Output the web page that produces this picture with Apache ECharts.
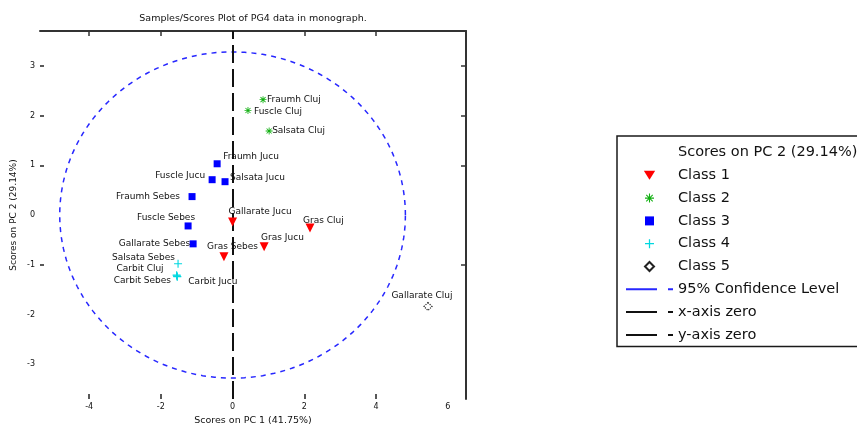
<!DOCTYPE html>
<html>
<head>
<meta charset="utf-8">
<title>Samples/Scores Plot</title>
<script src="https://cdn.jsdelivr.net/npm/echarts@6.0.0/dist/echarts.min.js"></script>
<style>
  html, body { margin: 0; padding: 0; background: #ffffff; }
  #chart { width: 857px; height: 425px; }
</style>
</head>
<body>
<div id="chart"></div>
<script>
// ---- Scores on PC 1 / PC 2, one set of arrays per class ----
const class1Names = ['Gallarate Jucu', 'Gras Cluj', 'Gras Jucu', 'Gras Sebes'];
const class1PC1 = [0.00, 2.16, 0.88, -0.24];
const class1PC2 = [-0.14, -0.26, -0.64, -0.84];

const class2Names = ['Fraumh Cluj', 'Fuscle Cluj', 'Salsata Cluj'];
const class2PC1 = [0.85, 0.43, 1.02];
const class2PC2 = [2.32, 2.10, 1.69];

const class3Names = ['Fraumh Jucu', 'Fuscle Jucu', 'Salsata Jucu', 'Fraumh Sebes', 'Fuscle Sebes', 'Gallarate Sebes'];
const class3PC1 = [-0.43, -0.57, -0.21, -1.13, -1.24, -1.10];
const class3PC2 = [1.03, 0.71, 0.67, 0.37, -0.22, -0.58];

const class4Names = ['Salsata Sebes', 'Carbit Cluj', 'Carbit Sebes', 'Carbit Jucu'];
const class4PC1 = [-1.52, -1.56, -1.55, -1.54];
const class4PC2 = [-0.98, -1.21, -1.23, -1.24];

const class5Names = ['Gallarate Cluj'];
const class5PC1 = [5.45];
const class5PC2 = [-1.84];

// 95% confidence ellipse: semi-axes along PC 1 and PC 2
const confidenceSemiAxes = [4.82, 3.28];

// axis ranges and tick labels
const pc1Range = [-5.37, 6.51];
const pc2Range = [-3.70, 3.70];
const pc1TickLabels = [-4, -2, 0, 2, 4, 6];
const pc1TickMarks = [-4, -2, 0, 2, 4];
const pc2TickLabels = [-3, -2, -1, 0, 1, 2, 3];
const pc2TickMarks = [-1, 1, 2, 3];

// ---- label placement around each marker: [dx, dy, align] ----
const labelPlacement = {
  'Gallarate Jucu': [-4, -10, 'left'],
  'Gras Cluj': [-7, -7, 'left'],
  'Gras Jucu': [-3, -9, 'left'],
  'Gras Sebes': [-17, -10, 'left'],
  'Fraumh Cluj': [4, 0, 'left'],
  'Fuscle Cluj': [6, 1, 'left'],
  'Salsata Cluj': [3, 0, 'left'],
  'Fraumh Jucu': [6, -7, 'left'],
  'Fuscle Jucu': [-7, -4, 'right'],
  'Salsata Jucu': [5, -4, 'left'],
  'Fraumh Sebes': [-12, 0, 'right'],
  'Fuscle Sebes': [7, -8, 'right'],
  'Gallarate Sebes': [-3, 0, 'right'],
  'Salsata Sebes': [-3, -6, 'right'],
  'Carbit Cluj': [-13, -7, 'right'],
  'Carbit Sebes': [-6, 4, 'right'],
  'Carbit Jucu': [11, 5, 'left'],
  'Gallarate Cluj': [-36, -10, 'left']
};

const FONT = 'DejaVu Sans';
const TEXT = '#111111';

// marker shapes
const triDown = 'path://M0,0H10L5,8Z';
const asterisk = 'path://M4.4,0H5.6V10H4.4Z M0,4.4H10V5.6H0Z M1,1.8L1.8,1L9,8.2L8.2,9Z M8.2,1L9,1.8L1.8,9L1,8.2Z';
const plus = 'path://M4.3,0H5.7V10H4.3Z M0,4.3H10V5.7H0Z';
const square = 'path://M0,0H10V10H0Z';
const diamond = 'path://M5,0L10,5L5,10L0,5Z';
const lineIcon = 'path://M0,0H31V2H0Z M42,0H47V2H42Z';

function buildPoints(names, xs, ys, size) {
  return names.map(function (n, i) {
    const p = labelPlacement[n] || [5, 0, 'left'];
    return {
      name: n,
      value: [xs[i], ys[i]],
      label: {
        position: [size / 2 + p[0], size / 2 + p[1]],
        align: p[2]
      }
    };
  });
}

const pointLabel = {
  show: true,
  formatter: '{b}',
  fontFamily: FONT,
  fontSize: 9,
  color: TEXT,
  verticalAlign: 'middle'
};

function classSeries(name, names, xs, ys, symbol, size, itemStyle) {
  return {
    name: name,
    type: 'scatter',
    xAxisIndex: 0,
    yAxisIndex: 0,
    symbol: symbol,
    symbolSize: size,
    itemStyle: Object.assign({ opacity: 1 }, itemStyle),
    label: pointLabel,
    emphasis: { disabled: true },
    data: buildPoints(names, xs, ys, size),
    z: 5
  };
}

const headerName = 'Scores on PC 2 (29.14%)';

const chart = echarts.init(document.getElementById('chart'), null, { renderer: 'canvas' });

chart.setOption({
  animation: false,
  backgroundColor: '#ffffff',
  title: {
    text: 'Samples/Scores Plot of PG4 data in monograph.',
    left: 253,
    top: 14,
    textAlign: 'center',
    padding: 0,
    textStyle: { fontFamily: FONT, fontSize: 9.5, fontWeight: 'normal', color: TEXT }
  },
  grid: { left: 40, right: 391, top: 31, bottom: 26, containLabel: false, outerBoundsMode: 'none' },
  xAxis: [
    {
      type: 'value',
      min: pc1Range[0],
      max: pc1Range[1],
      position: 'bottom',
      name: 'Scores on PC 1 (41.75%)',
      nameLocation: 'middle',
      nameGap: 17,
      nameTextStyle: { fontFamily: FONT, fontSize: 9.5, color: TEXT },
      axisLine: { show: false, onZero: false },
      axisTick: { show: true, inside: true, length: 5, customValues: pc1TickMarks, lineStyle: { color: '#222', width: 1.5 } },
      axisLabel: { customValues: pc1TickLabels, fontFamily: FONT, fontSize: 8, color: TEXT, margin: 4 },
      splitLine: { show: false }
    },
    {
      type: 'value',
      min: pc1Range[0],
      max: pc1Range[1],
      position: 'top',
      axisLine: { show: true, onZero: false, lineStyle: { color: '#333', width: 2 } },
      axisTick: { show: true, inside: true, length: 5, customValues: pc1TickMarks, lineStyle: { color: '#333', width: 1.5 } },
      axisLabel: { show: false },
      splitLine: { show: false }
    }
  ],
  yAxis: [
    {
      type: 'value',
      min: pc2Range[0],
      max: pc2Range[1],
      position: 'left',
      name: 'Scores on PC 2 (29.14%)',
      nameLocation: 'middle',
      nameGap: 22,
      nameTextStyle: { fontFamily: FONT, fontSize: 9, color: TEXT },
      axisLine: { show: false, onZero: false },
      axisTick: { show: true, inside: true, length: 4, customValues: pc2TickMarks, lineStyle: { color: '#222', width: 1.5 } },
      axisLabel: { customValues: pc2TickLabels, fontFamily: FONT, fontSize: 8, color: TEXT, margin: 5 },
      splitLine: { show: false }
    },
    {
      type: 'value',
      min: pc2Range[0],
      max: pc2Range[1],
      position: 'right',
      axisLine: { show: true, onZero: false, lineStyle: { color: '#333', width: 2 } },
      axisTick: { show: true, inside: true, length: 5, customValues: pc2TickMarks, lineStyle: { color: '#333', width: 1.5 } },
      axisLabel: { show: false },
      splitLine: { show: false }
    }
  ],
  legend: {
    orient: 'vertical',
    left: 617,
    top: 136,
    padding: [9, 80, 4, 9],
    itemWidth: 47,
    itemHeight: 9,
    itemGap: 7.8,
    borderColor: '#1a1a1a',
    borderWidth: 1.5,
    backgroundColor: '#ffffff',
    selectedMode: false,
    textStyle: { fontFamily: FONT, fontSize: 14.5, color: TEXT },
    data: [
      { name: headerName, icon: square, itemStyle: { opacity: 0 } },
      { name: 'Class 1', icon: triDown },
      { name: 'Class 2', icon: asterisk },
      { name: 'Class 3', icon: square },
      { name: 'Class 4', icon: plus },
      { name: 'Class 5', icon: diamond },
      { name: '95% Confidence Level', icon: lineIcon },
      { name: 'x-axis zero', icon: lineIcon },
      { name: 'y-axis zero', icon: lineIcon }
    ]
  },
  series: [
    { name: headerName, type: 'scatter', data: [], itemStyle: { color: '#ffffff' } },
    classSeries('Class 1', class1Names, class1PC1, class1PC2, triDown, 9, { color: '#ff0000' }),
    classSeries('Class 2', class2Names, class2PC1, class2PC2, asterisk, 7, { color: '#12b012' }),
    classSeries('Class 3', class3Names, class3PC1, class3PC2, square, 7, { color: '#0000ff' }),
    classSeries('Class 4', class4Names, class4PC1, class4PC2, plus, 8, { color: '#00d8e0' }),
    classSeries('Class 5', class5Names, class5PC1, class5PC2, diamond, 8,
      { color: 'rgba(255,255,255,0)', borderColor: '#222', borderWidth: 1.2, borderType: 'dotted' }),
    {
      name: '95% Confidence Level',
      type: 'custom',
      xAxisIndex: 0,
      yAxisIndex: 0,
      itemStyle: { color: '#2727ff' },
      silent: true,
      z: 3,
      data: [[0, 0]],
      renderItem: function (params, api) {
        const cx = api.value(0), cy = api.value(1);
        const a = confidenceSemiAxes[0], b = confidenceSemiAxes[1];
        const pts = [];
        for (let k = 0; k <= 180; k++) {
          const t = (k / 180) * Math.PI * 2;
          pts.push(api.coord([cx + a * Math.cos(t), cy + b * Math.sin(t)]));
        }
        return {
          type: 'polyline',
          shape: { points: pts },
          style: { fill: null, stroke: '#2727ff', lineWidth: 1.5, lineDash: [5, 5] }
        };
      }
    },
    {
      name: 'x-axis zero',
      type: 'line',
      data: [],
      itemStyle: { color: '#111' },
      lineStyle: { color: '#111' }
    },
    {
      name: 'y-axis zero',
      type: 'line',
      data: [],
      itemStyle: { color: '#111' },
      lineStyle: { color: '#111' },
      markLine: {
        silent: true,
        symbol: 'none',
        label: { show: false },
        lineStyle: { color: '#111', width: 2, type: [18, 6] },
        data: [{ xAxis: 0 }]
      },
      z: 4
    }
  ]
});
</script>
</body>
</html>
